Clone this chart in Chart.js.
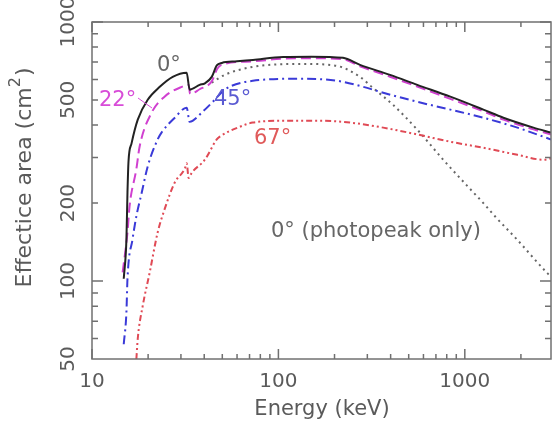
<!DOCTYPE html>
<html lang="en">
  <head>
    <meta charset="UTF-8" />
    <title>Effective area vs energy</title>
    <script src="https://cdn.jsdelivr.net/npm/chart.js"></script>
    <style>
      body {
        margin: 0;
        background: #fff;
      }
      .wrap {
        width: 552px;
        height: 421px;
      }
    </style>
  </head>
  <body>
    <div class="wrap"><canvas id="areaChart"></canvas></div>

    <script>
      // energy (keV), area (cm^2)
      const deg0 = [
        [14.8, 102], [15.3, 145], [15.5, 220], [15.7, 290], [16.3, 340],
        [17.6, 420], [19.9, 501], [23.1, 562], [27.1, 614], [32.2, 637],
        [33.4, 548], [37.8, 572], [40.3, 580], [43.9, 614], [46.7, 680],
        [49.7, 695], [60, 705], [73, 714], [106, 733], [150, 735],
        [222, 727], [274, 683], [397, 625], [556, 572], [836, 515],
        [1257, 459], [1610, 427], [2335, 391], [2900, 374]
      ];
      const deg22 = [
        [14.6, 108], [15.5, 154], [15.9, 194], [17.3, 271], [18.0, 330],
        [20.9, 447], [24.5, 515], [30.3, 562], [33.0, 572], [33.6, 528],
        [37.8, 550], [43.9, 590], [47, 660], [50, 685], [73, 705],
        [106, 722], [150, 725], [222, 718], [274, 675], [397, 615],
        [556, 563], [836, 505], [1257, 452], [1610, 420], [2335, 385],
        [2900, 368]
      ];
      const deg45 = [
        [14.8, 57], [15.3, 76], [15.5, 102], [16.5, 145], [17.3, 178],
        [18.5, 220], [19.9, 277], [22.5, 352], [23.6, 374], [27.8, 427],
        [32.2, 467], [33.4, 412], [39.3, 451], [45.6, 501], [51.5, 548],
        [72.9, 593], [126, 604], [206, 593], [285, 562], [365, 533],
        [556, 492], [836, 459], [1257, 427], [1916, 391], [2900, 352]
      ];
      const deg67 = [
        [17.3, 50], [17.6, 60], [18.7, 80], [20.4, 108], [22.5, 154],
        [24.5, 189], [27.8, 240], [31.5, 272], [32.2, 285], [33.0, 250],
        [34.3, 262], [40.3, 294], [46.7, 352], [48.5, 361], [62.1, 394],
        [72.9, 409], [111, 416], [167, 416], [242, 409], [365, 391],
        [556, 368], [836, 345], [1257, 327], [1916, 307], [2642, 294],
        [2900, 297]
      ];
      const photopeak = [
        [43.9, 583], [51.5, 625], [72.9, 671], [136, 689], [206, 677],
        [274, 614], [322, 556], [413, 478], [556, 384], [766, 294],
        [1030, 233], [1257, 200], [1459, 177], [1916, 144], [2780, 107],
        [2900, 104]
      ];

      const xMajor = [10, 100, 1000];
      const xMinor = [20, 30, 40, 50, 60, 70, 80, 90, 200, 300, 400, 500, 600, 700, 800, 900, 2000];
      const yMajor = [100, 1000];
      const yMinor = [60, 70, 80, 90, 200, 300, 400, 500, 600, 700, 800, 900];
      const xLabels = [10, 100, 1000];
      const yLabels = [50, 100, 200, 500, 1000];

      const pts = (arr) => arr.map(([x, y]) => ({ x, y }));
      const TICK_FONT = '20px "DejaVu Sans", sans-serif';
      const TEXT_FONT = '21px "DejaVu Sans", sans-serif';
      const YT_FONT = '22px "DejaVu Sans", sans-serif';

      const framePlugin = {
        id: "frame",
        afterDraw(chart) {
          const { ctx, chartArea: a, scales } = chart;
          const sx = scales.x, sy = scales.y;
          ctx.save();
          ctx.strokeStyle = "#707070";
          ctx.lineWidth = 1.5;
          ctx.strokeRect(a.left, a.top, a.right - a.left, a.bottom - a.top);

          const tickX = (v, len) => {
            const p = sx.getPixelForValue(v);
            ctx.beginPath();
            ctx.moveTo(p, a.bottom); ctx.lineTo(p, a.bottom - len);
            ctx.moveTo(p, a.top); ctx.lineTo(p, a.top + len);
            ctx.stroke();
          };
          const tickY = (v, len) => {
            const p = sy.getPixelForValue(v);
            ctx.beginPath();
            ctx.moveTo(a.left, p); ctx.lineTo(a.left + len, p);
            ctx.moveTo(a.right, p); ctx.lineTo(a.right - len, p);
            ctx.stroke();
          };
          xMajor.forEach((v) => tickX(v, 10));
          xMinor.forEach((v) => tickX(v, 5));
          yMajor.forEach((v) => tickY(v, 11));
          yMinor.forEach((v) => tickY(v, 6));

          ctx.fillStyle = "#5a5a5a";
          ctx.font = TICK_FONT;
          ctx.textAlign = "center";
          ctx.textBaseline = "middle";
          xLabels.forEach((v) => ctx.fillText(String(v), sx.getPixelForValue(v), 382));
          yLabels.forEach((v) => {
            ctx.save();
            ctx.translate(69, sy.getPixelForValue(v));
            ctx.rotate(-Math.PI / 2);
            ctx.fillText(String(v), 0, 0);
            ctx.restore();
          });

          // axis titles
          ctx.font = TEXT_FONT;
          ctx.fillText("Energy (keV)", 322, 410);
          ctx.save();
          ctx.translate(25, 178);
          ctx.rotate(-Math.PI / 2);
          const main = "Effectice area (cm";
          const sup = "2";
          const close = ")";
          const SUP_FONT = '16px "DejaVu Sans", sans-serif';
          ctx.font = YT_FONT;
          const wMain = ctx.measureText(main).width;
          const wClose = ctx.measureText(close).width;
          ctx.font = SUP_FONT;
          const wSup = ctx.measureText(sup).width;
          const x0 = -(wMain + wSup + wClose) / 2;
          ctx.textAlign = "left";
          ctx.font = YT_FONT;
          ctx.fillText(main, x0, 0);
          ctx.font = SUP_FONT;
          ctx.fillText(sup, x0 + wMain, -9);
          ctx.font = YT_FONT;
          ctx.fillText(close, x0 + wMain + wSup + 1, 0);
          ctx.restore();

          // curve labels
          ctx.font = TEXT_FONT;
          ctx.textAlign = "left";
          ctx.fillStyle = "#666";
          ctx.fillText("0°", 157, 66);
          ctx.fillText("0° (photopeak only)", 271, 232);
          ctx.fillStyle = "#d84cd8";
          ctx.fillText("22°", 99, 101);
          ctx.strokeStyle = "#d84cd8";
          ctx.lineWidth = 1;
          ctx.beginPath();
          ctx.moveTo(138, 98); ctx.lineTo(152, 108);
          ctx.stroke();
          ctx.fillStyle = "#5a5ad2";
          ctx.fillText("45°", 214, 100);
          ctx.fillStyle = "#e05a5a";
          ctx.fillText("67°", 254, 139);
          ctx.restore();
        },
      };

      new Chart(document.getElementById("areaChart"), {
        type: "line",
        data: {
          datasets: [
            {
              label: "0°",
              data: pts(deg0),
              borderColor: "#222",
              borderWidth: 2,
            },
            {
              label: "22°",
              data: pts(deg22),
              borderColor: "#d040d0",
              borderWidth: 2,
              borderDash: [10, 5],
            },
            {
              label: "45°",
              data: pts(deg45),
              borderColor: "#3a3ad8",
              borderWidth: 2,
              borderDash: [9, 4, 2, 4],
            },
            {
              label: "67°",
              data: pts(deg67),
              borderColor: "#e04a55",
              borderWidth: 2,
              borderDash: [6, 3, 2, 3, 2, 3],
            },
            {
              label: "0° (photopeak only)",
              data: pts(photopeak),
              borderColor: "#666",
              borderWidth: 2,
              borderDash: [2, 4],
            },
          ],
        },
        options: {
          responsive: true,
          maintainAspectRatio: false,
          animation: false,
          layout: { padding: { left: 92, top: 22, right: 1, bottom: 62 } },
          elements: {
            point: { radius: 0 },
            line: { cubicInterpolationMode: "monotone", fill: false },
          },
          plugins: { legend: { display: false }, tooltip: { enabled: false } },
          scales: {
            x: { type: "logarithmic", min: 10, max: 2900, display: false },
            y: { type: "logarithmic", min: 50, max: 1000, display: false },
          },
        },
        plugins: [framePlugin],
      });
    </script>
  </body>
</html>
